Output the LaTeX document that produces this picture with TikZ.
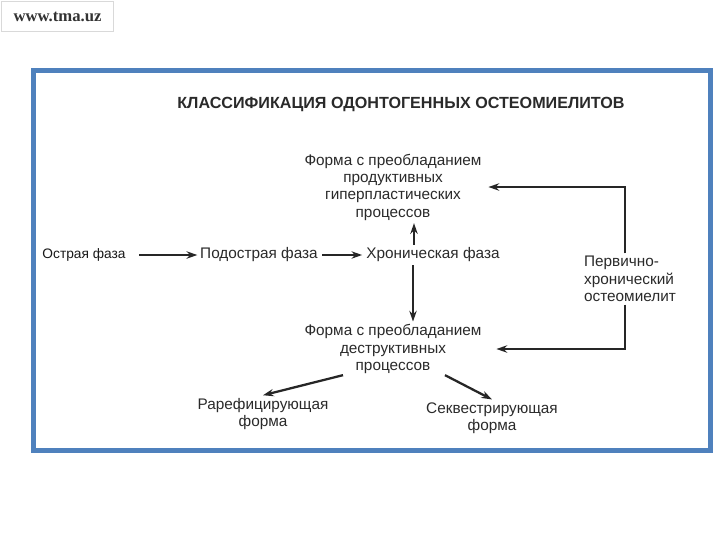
\documentclass[tikz,border=0pt]{standalone}
\usepackage{fontspec}
\setmainfont{Liberation Sans}
\newfontfamily\serifbold{Liberation Serif}
\usetikzlibrary{arrows.meta}
\definecolor{framec}{HTML}{4F81BD}
\definecolor{txt}{HTML}{2A2A2A}
\tikzset{
  lbl/.style={inner sep=2pt, text=txt, font=\fontsize{11.5}{13}\selectfont, align=center},
  arr/.style={draw=black!85, line width=1.7pt, -{Stealth[length=8pt,width=5.5pt]}},
  conn/.style={draw=black!85, line width=1.6pt, -{Stealth[length=8pt,width=5.5pt]}},
}
\begin{document}
\begin{tikzpicture}[x=0.75pt,y=-0.75pt]
\useasboundingbox (0,0) rectangle (720,540);
\fill[white] (0,0) rectangle (720,540);
% site label
\node[draw=black!15, line width=0.8pt, minimum width=84pt, minimum height=22pt, inner sep=0pt,
      font=\serifbold\bfseries\fontsize{12.5}{14}\selectfont, text=black!80] (site) at (57.5,16.5) {www.tma.uz};
% frame
\draw[framec, line width=3.6pt] (33.5,70.5) rectangle (710.5,450.5);
% title
\node[inner sep=0pt, text=txt, font=\bfseries\fontsize{12.1}{14}\selectfont] (title) at (401,104)
  {КЛАССИФИКАЦИЯ ОДОНТОГЕННЫХ ОСТЕОМИЕЛИТОВ};
% nodes
\node[lbl] (prod) at (393,187) {Форма с преобладанием\\продуктивных\\гиперпластических\\процессов};
\node[lbl, font=\fontsize{10.3}{13}\selectfont, text=black!90] (acute) at (84,255) {Острая фаза};
\node[lbl] (subacute) at (259,255) {Подострая фаза};
\node[lbl] (chronic) at (433,255) {Хроническая фаза};
\node[lbl, align=left] (primary) at (630,279) {Первично-\\хронический\\остеомиелит};
\node[lbl] (destr) at (393,349) {Форма с преобладанием\\деструктивных\\процессов};
\node[lbl] (raref) at (263,414) {Рарефицирующая\\форма};
\node[lbl] (sequ) at (492,418) {Секвестрирующая\\форма};
% connectors
\draw[arr, shorten <=8pt, shorten >=0pt] (acute.east) -- (subacute.west);
\draw[arr, shorten <=1pt, shorten >=1pt] (subacute.east) -- (chronic.west);
\draw[arr] ([xshift=-14.25pt]chronic.north) -- ([xshift=-14.25pt]chronic.north |- prod.south);
\draw[arr] ([xshift=-15pt]chronic.south) -- ([xshift=-15pt]chronic.south |- destr.north);
\draw[conn, shorten >=3pt] ([xshift=-3.75pt]primary.north) |- (prod.east);
\draw[conn, shorten >=9pt] ([xshift=-3.75pt]primary.south) |- (destr.east);
\draw[arr] ([xshift=-37.5pt,yshift=1pt]destr.south) -- (raref.north);
\draw[arr] ([xshift=39pt,yshift=1pt]destr.south) -- (sequ.north);
\end{tikzpicture}
\end{document}
